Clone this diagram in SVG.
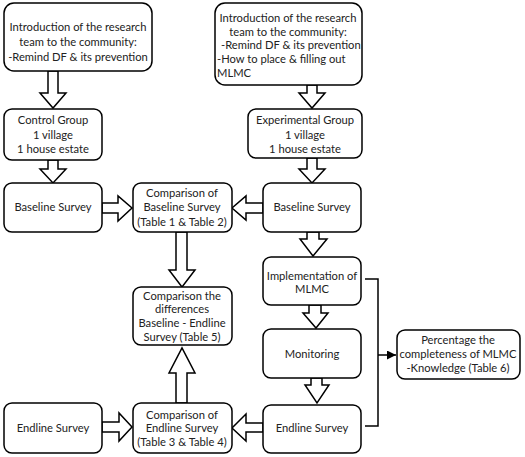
<svg xmlns="http://www.w3.org/2000/svg" width="525" height="457" viewBox="0 0 525 457">
<defs>
<style>
.box{fill:#fff;stroke:#000;stroke-width:1.5}
.arr{fill:#fff;stroke:#000;stroke-width:1.5;stroke-linejoin:miter}
.ln{fill:none;stroke:#000;stroke-width:1.5}
text{font-family:Lato,"Liberation Sans",sans-serif;font-size:11.2px;fill:#222}
.c{text-anchor:middle}
</style>
<marker id="ah" viewBox="0 0 10 10" refX="10" refY="5" markerWidth="6" markerHeight="6" orient="auto">
<path d="M0,0 L10,5 L0,10 z" fill="#000"/>
</marker>
</defs>
<rect width="525" height="457" fill="#fff"/>
<g id="connectors">
<polygon class="arr" points="48,71 58,71 58,93 66,93 53,108 40,93 48,93"/>
<polygon class="arr" points="307,85 317,85 317,93 325,93 312,108 299,93 307,93"/>
<polygon class="arr" points="48,160 58,160 58,169 66,169 53,183 40,169 48,169"/>
<polygon class="arr" points="307,158 317,158 317,169 325,169 312,183 299,169 307,169"/>
<polygon class="arr" points="102,203 118,203 118,196 132,208 118,221 118,213 102,213"/>
<polygon class="arr" points="263,203 246,203 246,196 232,208 246,220 246,213 263,213"/>
<polygon class="arr" points="176,232 187,232 187,270 195,270 182,287 169,270 176,270"/>
<polygon class="arr" points="307,232 319,232 319,239 327,239 313,256 300,239 307,239"/>
<polygon class="arr" points="309,305 321,305 321,313 328,313 316,328 303,313 309,313"/>
<polygon class="arr" points="311,378 322,378 322,385 329,385 317,403 305,385 311,385"/>
<polygon class="arr" points="263,423 246,423 246,414 232,428 246,441 246,432 263,432"/>
<polygon class="arr" points="102,422 119,422 119,413 132,427 119,441 119,432 102,432"/>
<polygon class="arr" points="176,403 187,403 187,373 195,373 182,348 169,373 176,373"/>
<polyline class="ln" points="365,279 378,279 378,426 365,426"/>
<line class="ln" x1="378" y1="355" x2="396" y2="355" marker-end="url(#ah)"/>
</g>
<g id="intro-control">
<rect class="box" x="4" y="3" width="148" height="68" rx="10"/>
<text class="c" x="78" y="31">Introduction of the research</text>
<text class="c" x="78" y="46">team to the community:</text>
<text class="c" x="78" y="61">-Remind DF &amp; its prevention</text>
</g>
<g id="intro-experimental">
<rect class="box" x="215" y="3" width="147" height="82" rx="10"/>
<text class="c" x="288" y="22">Introduction of the research</text>
<text class="c" x="288" y="36">team to the community:</text>
<text x="221" y="49">-Remind DF &amp; its prevention</text>
<text x="217" y="63">-How to place &amp; filling out</text>
<text x="217" y="77">MLMC</text>
</g>
<g id="control-group">
<rect class="box" x="4" y="109" width="98" height="51" rx="8"/>
<text class="c" x="53" y="124">Control Group</text>
<text class="c" x="53" y="139">1 village</text>
<text class="c" x="53" y="153">1 house estate</text>
</g>
<g id="experimental-group">
<rect class="box" x="248" y="109" width="114" height="49" rx="8"/>
<text class="c" x="305" y="124">Experimental Group</text>
<text class="c" x="305" y="139">1 village</text>
<text class="c" x="305" y="153">1 house estate</text>
</g>
<g id="baseline-control">
<rect class="box" x="4" y="183" width="98" height="49" rx="8"/>
<text class="c" x="53" y="211">Baseline Survey</text>
</g>
<g id="comparison-baseline">
<rect class="box" x="133" y="183" width="99" height="49" rx="8"/>
<text class="c" x="182" y="197">Comparison of</text>
<text class="c" x="182" y="211">Baseline Survey</text>
<text class="c" x="182" y="226">(Table 1 &amp; Table 2)</text>
</g>
<g id="baseline-experimental">
<rect class="box" x="263" y="183" width="98" height="49" rx="8"/>
<text class="c" x="312" y="211">Baseline Survey</text>
</g>
<g id="comparison-differences">
<rect class="box" x="133" y="287" width="99" height="58" rx="8"/>
<text class="c" x="182" y="300">Comparison the</text>
<text class="c" x="182" y="313">differences</text>
<text class="c" x="182" y="327">Baseline - Endline</text>
<text class="c" x="182" y="341">Survey (Table 5)</text>
</g>
<g id="implementation">
<rect class="box" x="263" y="257" width="98" height="48" rx="8"/>
<text class="c" x="312" y="280">Implementation of</text>
<text class="c" x="312" y="293">MLMC</text>
</g>
<g id="monitoring">
<rect class="box" x="263" y="329" width="98" height="49" rx="8"/>
<text class="c" x="312" y="358">Monitoring</text>
</g>
<g id="percentage">
<rect class="box" x="397" y="330" width="123" height="49" rx="8"/>
<text class="c" x="458" y="344">Percentage the</text>
<text class="c" x="458" y="358">completeness of MLMC</text>
<text class="c" x="458" y="372">-Knowledge (Table 6)</text>
</g>
<g id="endline-control">
<rect class="box" x="4" y="403" width="98" height="50" rx="8"/>
<text class="c" x="53" y="432">Endline Survey</text>
</g>
<g id="comparison-endline">
<rect class="box" x="133" y="403" width="99" height="50" rx="8"/>
<text class="c" x="182" y="419">Comparison of</text>
<text class="c" x="182" y="432">Endline Survey</text>
<text class="c" x="182" y="446">(Table 3 &amp; Table 4)</text>
</g>
<g id="endline-experimental">
<rect class="box" x="263" y="405" width="98" height="48" rx="8"/>
<text class="c" x="312" y="432">Endline Survey</text>
</g>
</svg>
